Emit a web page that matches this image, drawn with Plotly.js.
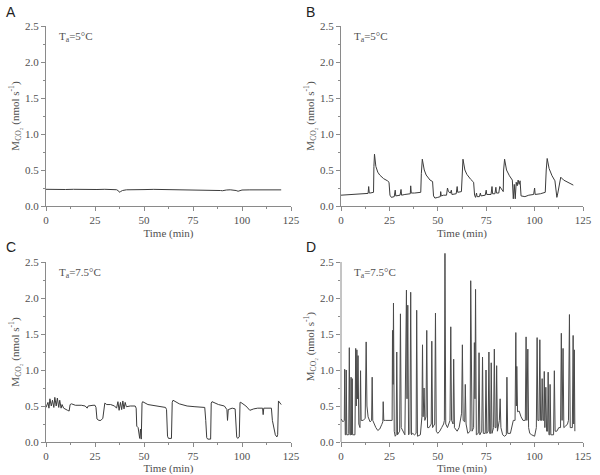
<!DOCTYPE html>
<html><head><meta charset="utf-8">
<script src="https://cdn.plot.ly/plotly-3.0.1.min.js"></script>
<style>html,body{margin:0;padding:0;background:#fff}#chart{width:600px;height:475px}</style>
</head><body><div id="chart"></div>
<script>
// Panel A: Ta = 5°C, continuous
const timeA = [0,3,6,10,14,18,22,26,30,34,36,37,37.5,38,39,41,45,50,55,60,65,70,75,80,85,88,89,90,91,92,94,96,97,98,99,100,104,108,112,116,120];
const mco2A = [0.232,0.228,0.231,0.229,0.232,0.228,0.231,0.229,0.232,0.228,0.226,0.21,0.19,0.2,0.215,0.225,0.23,0.228,0.231,0.229,0.23,0.228,0.229,0.226,0.225,0.222,0.215,0.212,0.218,0.222,0.225,0.222,0.215,0.205,0.212,0.222,0.224,0.226,0.223,0.225,0.224];

// Panel B: Ta = 5°C, discontinuous
const timeB = [0,5,10,14,14.3,14.6,15,16.8,17,17.3,18,19,20,22,24,24.8,25.3,26,27.5,28,28.3,29,30.5,31,31.3,33,35.8,36,36.3,38,40,41.2,41.5,42,43,44,46,47.3,47.8,48.5,50,51.3,51.5,51.8,53,54.5,55,55.5,56.5,57,57.3,59.5,60,60.3,62.2,62.5,63,64,65,67,68.5,69,69.5,70,70.3,71.5,72,72.3,74.5,75,75.3,77.5,78,78.3,79.5,80,80.3,81.5,82,83.8,84,84.5,85.5,87,88.5,89,89.5,90,90.5,91,91.5,92,92.5,93,95,97,99.5,100,100.3,103,105.5,106,106.5,107.5,109,110.5,111,111.5,112,113,113.5,115,117,120];
const mco2B = [0.15,0.16,0.17,0.175,0.27,0.18,0.18,0.19,0.55,0.72,0.55,0.47,0.43,0.38,0.35,0.33,0.15,0.12,0.13,0.22,0.14,0.14,0.15,0.23,0.15,0.16,0.17,0.28,0.18,0.18,0.18,0.19,0.45,0.65,0.5,0.43,0.36,0.34,0.14,0.11,0.12,0.13,0.2,0.14,0.15,0.15,0.25,0.2,0.18,0.22,0.16,0.17,0.27,0.19,0.2,0.48,0.65,0.5,0.44,0.37,0.33,0.15,0.12,0.18,0.13,0.13,0.18,0.14,0.15,0.22,0.16,0.16,0.27,0.17,0.17,0.26,0.18,0.18,0.27,0.2,0.5,0.65,0.5,0.42,0.36,0.1,0.3,0.1,0.33,0.28,0.36,0.3,0.35,0.14,0.13,0.15,0.16,0.25,0.16,0.17,0.19,0.5,0.66,0.52,0.42,0.35,0.25,0.12,0.18,0.37,0.4,0.36,0.33,0.29];

// Panel C: Ta = 7.5°C, cyclic
const timeC = [0,1,1.5,2,2.7,3.3,4,4.5,5.2,5.8,6.5,7,7.7,8.2,9,10,11,11.8,12.3,13,15,18,20,21,21.5,24,25,25.5,26,27,28,29,29.5,30,31,33,35,36,36.7,37.3,38,38.6,39.2,39.8,40.4,41,43,45.5,46,46.3,47,47.5,47.8,48.2,48.6,49,49.3,52,55,58,61,61.5,62,62.5,64,64.4,64.8,68,72,76,80,81,81.5,82,82.5,84,84.3,84.7,88,91,92.3,92.6,93,95,96.5,96.8,97.3,97.8,98.6,99,99.4,102,104,106,108,110.5,110.8,111.1,113,115,115.5,116,117,117.8,118.2,118.6,119.5,120];
const mco2C = [0.48,0.55,0.47,0.6,0.5,0.58,0.48,0.62,0.5,0.61,0.48,0.58,0.47,0.52,0.47,0.45,0.44,0.43,0.52,0.53,0.51,0.51,0.5,0.47,0.5,0.51,0.51,0.48,0.32,0.3,0.3,0.33,0.5,0.54,0.52,0.52,0.5,0.47,0.56,0.44,0.55,0.45,0.57,0.46,0.55,0.49,0.5,0.5,0.47,0.22,0.2,0.12,0.05,0.18,0.04,0.54,0.56,0.52,0.51,0.5,0.48,0.45,0.08,0.05,0.05,0.55,0.58,0.53,0.5,0.49,0.48,0.48,0.3,0.06,0.04,0.04,0.54,0.56,0.52,0.5,0.45,0.3,0.45,0.47,0.46,0.2,0.07,0.05,0.07,0.55,0.55,0.5,0.44,0.46,0.47,0.47,0.38,0.47,0.47,0.47,0.3,0.22,0.1,0.07,0.1,0.57,0.54,0.52];

// Panel D: Ta = 7.5°C, spiky
const timeD = [0,1,1.7,1.9,2.2,2.5,2.7,3.0,3.8,4.0,4.3,4.6,5.0,5.2,5.4,5.6,5.8,6.0,7.2,7.6,7.9,8.2,8.5,8.8,9.2,9.8,10.1,10.4,11.5,12.5,13.0,13.4,14,15,15.8,16.1,16.4,17,18,19,20,21,21.6,21.8,22.1,23,25,26.4,26.6,26.9,27.1,27.5,28,28.5,28.8,29.2,30.3,30.7,31.1,32,33,33.8,34.1,34.5,34.9,35.6,36.0,36.4,37,38,38.8,39.1,39.5,41,41.8,42.1,42.4,42.9,43.3,43.9,44.3,44.7,45.5,46.6,46.9,47.3,48.4,48.8,49.2,50,51,52,53,53.4,53.7,54.1,55,56.3,56.7,57.1,57.9,58.2,58.6,60,61,62.3,62.7,63.1,63.9,64.2,64.6,65.5,66.7,67.0,67.3,67.7,68.5,68.9,69.2,69.5,69.9,70.9,71.3,71.7,72.7,73.1,73.5,74.5,74.9,75.3,76.0,76.4,76.8,77.3,77.6,78,78.8,79.2,79.6,80.1,80.4,80.8,81.8,82.2,82.6,83.5,84.5,85.4,85.7,86.1,87.5,89,89.9,90.3,90.6,90.8,91.2,92,93,94,95.2,95.6,96,96.5,96.9,97.5,98.5,100,100.9,101.3,101.7,102.3,102.7,103.1,103.6,103.9,104.3,104.7,105.0,105.3,105.8,106.2,106.7,107,107.4,107.8,108,108.4,109.8,110.2,110.6,111.5,112.5,113.4,113.8,114.2,114.7,115.1,116,117,117.5,118,118.4,119.5,119.9,120.2,120.5,120.8];
const mco2D = [0.32,0.28,0.3,1.01,0.1,0.1,1.0,0.1,0.1,0.12,1.31,0.1,0.1,0.9,0.1,0.12,0.88,0.1,0.1,1.3,0.5,1.28,0.6,1.2,0.25,0.2,0.99,0.3,0.3,0.33,1.39,0.5,0.35,0.28,0.3,0.9,0.3,0.25,0.2,0.16,0.18,0.24,0.28,0.56,0.3,0.3,0.3,0.3,1.55,0.8,1.93,0.15,0.08,0.1,1.25,0.1,0.15,1.78,0.2,0.15,0.1,2.11,0.6,1.9,0.1,0.12,2.08,0.1,0.12,0.1,0.12,1.83,0.08,0.1,0.35,1.35,0.35,0.75,0.3,0.35,1.55,0.2,0.2,0.25,1.4,0.2,0.25,1.79,0.15,0.12,0.15,0.2,0.25,0.3,2.62,0.25,0.2,0.3,1.6,0.3,0.25,1.15,0.2,0.15,0.2,0.4,1.35,0.3,0.28,0.8,0.25,0.12,0.15,2.24,1.6,0.15,0.2,1.38,0.6,2.12,0.1,0.12,1.24,0.1,0.15,1.18,0.12,0.12,1.0,0.12,0.15,1.25,0.12,0.12,1.1,0.12,0.2,1.29,0.2,0.2,1.06,0.15,0.3,0.6,0.2,0.1,0.08,0.1,0.9,0.12,0.12,0.3,0.3,1.52,0.5,1.05,0.42,0.43,0.35,0.3,0.3,1.46,0.3,1.29,0.2,0.12,0.1,0.08,0.2,1.45,0.3,0.3,1.42,0.3,0.3,0.88,0.3,0.3,0.98,0.2,0.76,0.15,0.15,0.97,0.1,0.1,0.8,0.1,0.1,0.99,0.15,0.15,0.2,0.2,1.51,0.3,1.3,0.2,0.22,0.25,0.3,1.77,0.2,0.2,1.48,0.25,1.28,0.15];

const panelLetters = ['A','B','C','D'];
const tempLabels = ['T<sub>a</sub>=5°C','T<sub>a</sub>=5°C','T<sub>a</sub>=7.5°C','T<sub>a</sub>=7.5°C'];
const xTitle = 'Time (min)';
const yTitle = 'M<sub>CO₂</sub> (nmol s<sup>-1</sup>)';

const serif = 'Liberation Serif';
const txtColor = '#505050';
const axColor = '#8a8a8a';
const lineStyle = {color:'#3c3c3c', width:1};

const traces = [
  {x:timeA, y:mco2A, xaxis:'x', yaxis:'y', type:'scatter', mode:'lines', line:lineStyle},
  {x:timeB, y:mco2B, xaxis:'x2', yaxis:'y2', type:'scatter', mode:'lines', line:lineStyle},
  {x:timeC, y:mco2C, xaxis:'x3', yaxis:'y3', type:'scatter', mode:'lines', line:lineStyle},
  {x:timeD, y:mco2D, xaxis:'x4', yaxis:'y4', type:'scatter', mode:'lines', line:{color:'#4a4a4a', width:1}}
];

function xax(domain, anchor){
  return {domain:domain, anchor:anchor, range:[0,125], dtick:25, tick0:0,
    showline:true, linecolor:axColor, linewidth:1, ticks:'outside', ticklen:4, tickcolor:axColor,
    minor:{ticks:'outside', ticklen:2, dtick:12.5, tickcolor:axColor},
    showgrid:false, zeroline:false, tickfont:{family:serif, size:11, color:txtColor},
    title:{text:xTitle, font:{family:serif, size:11, color:txtColor}, standoff:4}};
}
function yax(domain, anchor, top){
  return {domain:domain, anchor:anchor, range:[0,top], tickvals:[0,0.5,1,1.5,2,2.5], tickformat:'.1f',
    showline:top===2.5, linecolor:axColor, linewidth:1, ticks:'outside', ticklen:4, tickcolor:axColor,
    minor:{ticks:'outside', ticklen:2, tickvals:[0.25,0.75,1.25,1.75,2.25], tickcolor:axColor},
    showgrid:false, zeroline:false, tickfont:{family:serif, size:11, color:txtColor},
    title:{text:yTitle, font:{family:serif, size:11, color:txtColor}, standoff:3}};
}

const xL = [46/600, 291/600], xR = [341/600, 583/600];
const yT = [(475-206)/475, (475-26)/475], yB = [(475-442)/475, (475-262)/475];
// panel D extends a bit above 2.5 so the tallest spike is not clipped
const dTop = 2.65;
const yBD = [yB[0], yB[0] + (yB[1]-yB[0])*dTop/2.5];

const annotations = [];
const letterPos = [[4,2],[304,2],[4,237],[304,237]];
const axNames = ['x','x2','x3','x4'];
const yNames = ['y','y2','y3','y4'];
for (let i=0;i<4;i++){
  annotations.push({text:panelLetters[i], xref:'paper', yref:'paper', x:letterPos[i][0]/600, y:1-letterPos[i][1]/475,
    xanchor:'left', yanchor:'top', showarrow:false, font:{family:'Liberation Sans', size:14, color:'#222'}});
  annotations.push({text:tempLabels[i], xref:axNames[i]+' domain', yref:yNames[i], x:0.045, y:2.47,
    xanchor:'left', yanchor:'top', showarrow:false, font:{family:serif, size:11, color:txtColor}});
}

const layout = {
  width:600, height:475, margin:{l:0,r:0,t:0,b:0}, showlegend:false,
  paper_bgcolor:'#fff', plot_bgcolor:'rgba(0,0,0,0)',
  xaxis:xax(xL,'y'), yaxis:yax(yT,'x',2.5),
  xaxis2:xax(xR,'y2'), yaxis2:yax(yT,'x2',2.5),
  xaxis3:xax(xL,'y3'), yaxis3:yax(yB,'x3',2.5),
  xaxis4:xax(xR,'y4'), yaxis4:yax(yBD,'x4',dTop),
  annotations:annotations,
  shapes:[{type:'line', xref:'x4 domain', yref:'y4', x0:0, x1:0, y0:0, y1:2.5, line:{color:axColor, width:1}, layer:'below'}]
};

Plotly.newPlot('chart', traces, layout, {staticPlot:true, displayModeBar:false});
</script></body></html>
